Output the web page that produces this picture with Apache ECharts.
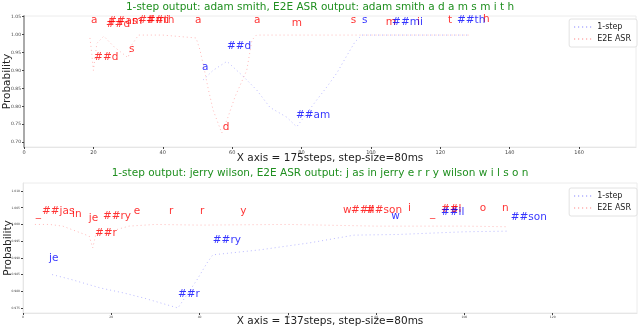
<!DOCTYPE html>
<html>
<head>
<meta charset="utf-8">
<script src="https://cdn.jsdelivr.net/npm/echarts@6/dist/echarts.min.js"></script>
<style>html,body{margin:0;padding:0;background:#fff}#c{width:640px;height:328px}</style>
</head>
<body>
<div id="c"></div>
<script>
// ---------- Top chart data ----------
const topTitle = '1-step output: adam smith, E2E ASR output: adam smith a d a m s m i t h';
const topXLabel = 'X axis = 175steps, step-size=80ms';
const topYTicks = [0.70, 0.75, 0.80, 0.85, 0.90, 0.95, 1.00, 1.05];
const topXTicks = [0, 20, 40, 60, 80, 100, 120, 140, 160];

const topBlueX = [51.6, 54.5, 58.5, 63, 67.1, 70.9, 75.7, 78.6, 84.4, 87.3, 90.2, 93, 95.4, 97.4, 105, 115, 128.5];
const topBlueY = [0.873, 0.90, 0.925, 0.885, 0.845, 0.797, 0.77, 0.743, 0.818, 0.854, 0.893, 0.94, 0.979, 0.998, 0.998, 0.998, 0.998];

const topRedX = [19, 19.5, 20, 21, 23, 26, 28, 30, 31, 33, 40, 49.6, 50.7, 51.9, 53, 54.5, 57, 58.8, 60.8, 64.2, 65.7, 67, 80, 100, 128.5];
const topRedY = [0.99, 0.95, 0.90, 0.975, 0.995, 0.965, 0.95, 0.935, 0.97, 0.998, 0.998, 0.99, 0.957, 0.906, 0.853, 0.79, 0.726, 0.77, 0.826, 0.90, 0.984, 0.998, 0.998, 0.998, 0.998];

const topRedTok = ['a', '##d', '##am', 's', '##mi', '##th', '##d', 's', 'a', 'd', 'a', 'm', 's', 'm', 'i', 't', 'h'];
const topRedTokX = [19.3, 23.6, 24.2, 31.1, 32.9, 35.2, 20.2, 30.3, 49.3, 57.3, 66.3, 77.2, 94.2, 104.3, 113.3, 122.2, 132.3];
const topRedTokY = [1.0286, 1.0175, 1.026, 1.026, 1.0286, 1.0286, 0.926, 0.948, 1.0286, 0.731, 1.0286, 1.020, 1.0286, 1.023, 1.023, 1.0286, 1.031];

const topBlueTok = ['a', '##d', '##am', 's', '##mi', '##th'];
const topBlueTokX = [51.3, 58.5, 78.4, 97.4, 106.1, 124.8];
const topBlueTokY = [0.898, 0.956, 0.765, 1.0286, 1.023, 1.0286];

// ---------- Bottom chart data ----------
const botTitle = '1-step output: jerry wilson, E2E ASR output: j as in jerry e r r y wilson w i l s o n';
const botXLabel = 'X axis = 137steps, step-size=80ms';
const botYTicks = [0.975, 0.980, 0.985, 0.990, 0.995, 1.000, 1.005, 1.010];
const botXTicks = [0, 20, 40, 60, 80, 100, 120];

const botBlueX = [6.6, 11, 17.5, 22.8, 27.3, 35.1, 39.4, 41.7, 43, 53.7, 65, 75, 85, 100, 110];
const botBlueY = [0.985, 0.9835, 0.981, 0.9795, 0.978, 0.975, 0.9834, 0.9885, 0.9909, 0.9924, 0.9945, 0.9968, 0.997, 0.9978, 0.998];

const botRedX = [2.7, 6, 9, 12, 15, 15.8, 16.5, 20, 24, 30, 40, 60, 80, 100, 110];
const botRedY = [1.0, 1.0, 0.9995, 0.998, 0.9965, 0.993, 0.997, 0.998, 0.9995, 1.0, 0.9998, 1.0, 0.9995, 0.9995, 0.9993];

const botRedTok = ['_', '##jas', 'in', 'je', '##ry', '##r', 'e', 'r', 'r', 'y', 'w', '##il', '##son', 'i', '_', '##l', 's', 'o', 'n'];
const botRedTokX = [2.9, 4.3, 11.1, 14.9, 18.1, 16.3, 25.1, 33.1, 40.1, 49.2, 72.5, 74.3, 77.7, 87.2, 92.2, 94.7, 97.2, 103.5, 108.5];
const botRedTokY = [1.0022, 1.0028, 1.0019, 1.0007, 1.0013, 0.9963, 1.0028, 1.0028, 1.0028, 1.0028, 1.0031, 1.0031, 1.0031, 1.0037, 1.0022, 1.0034, 1.0034, 1.0037, 1.0037];

const botBlueTok = ['je', '##r', '##ry', 'w', '##il', '##son'];
const botBlueTokX = [5.9, 35.1, 43.0, 83.4, 94.7, 110.5];
const botBlueTokY = [0.9888, 0.978, 0.9942, 1.0013, 1.0025, 1.001];

// ---------- build ----------
const zip = (xs, ys) => xs.map((x, i) => [x, ys[i]]);
const tokData = (t, xs, ys) => t.map((s, i) => ({ value: [xs[i], ys[i]], name: s }));
const FONT = 'DejaVu Sans';
const RED = 'rgba(255,0,0,0.28)';
const BLUE = 'rgba(0,0,255,0.28)';

function lineSeries(name, data, color, gi) {
  return {
    type: 'line', name, data, xAxisIndex: gi, yAxisIndex: gi,
    symbol: 'none', silent: true,
    lineStyle: { color, width: 1, type: [1, 3] },
    itemStyle: { color },
    emphasis: { disabled: true }, animation: false
  };
}
function textSeries(data, color, gi) {
  return {
    type: 'scatter', data, xAxisIndex: gi, yAxisIndex: gi,
    symbolSize: 0, silent: true, animation: false,
    itemStyle: { color: 'rgba(0,0,0,0)' },
    label: {
      show: true, formatter: '{b}', position: [0, 0], align: 'left', verticalAlign: 'bottom',
      offset: [0, 2], color, fontSize: 10.5, fontFamily: FONT
    },
    emphasis: { disabled: true }
  };
}
function xAxis(gi, max, ticks, name, fs, gap) {
  return {
    type: 'value', gridIndex: gi, min: 0, max,
    name, nameLocation: 'middle', nameGap: gap, nameMoveOverlap: false,
    nameTextStyle: { fontFamily: FONT, fontSize: 10.5, color: '#222' },
    axisLine: { show: true, lineStyle: { color: '#e6e6e6', width: 1 } },
    axisTick: { show: true, customValues: ticks, length: 2, lineStyle: { color: '#444' } },
    axisLabel: { customValues: ticks, fontSize: fs, fontFamily: FONT, color: '#444', margin: 3 },
    splitLine: { show: false }
  };
}
function yAxis(gi, min, max, ticks, dec, fs, lineColor, lineWidth, gap) {
  return {
    type: 'value', gridIndex: gi, min, max,
    name: 'Probability', nameLocation: 'middle', nameGap: gap, nameMoveOverlap: false,
    nameTextStyle: { fontFamily: FONT, fontSize: 10.5, color: '#222' },
    axisLine: { show: true, lineStyle: { color: lineColor, width: lineWidth } },
    axisTick: { show: true, customValues: ticks, length: 2, lineStyle: { color: '#444' } },
    axisLabel: { customValues: ticks, fontSize: fs, fontFamily: FONT, color: '#444', margin: 3,
      formatter: v => v.toFixed(dec) },
    splitLine: { show: false }
  };
}
function legend(top) {
  return {
    orient: 'vertical', right: 3, top, data: ['1-step', 'E2E ASR'],
    itemWidth: 18, itemHeight: 6, itemGap: 4, padding: [4, 6, 4, 4],
    backgroundColor: '#fff', borderColor: '#e2e2e2', borderWidth: 1, borderRadius: 2,
    itemStyle: { color: 'rgba(0,0,0,0)', borderColor: 'rgba(0,0,0,0)', borderWidth: 0 },
    textStyle: { fontFamily: FONT, fontSize: 8, color: '#222' },
    selectedMode: false
  };
}

const option = {
  animation: false,
  backgroundColor: '#fff',
  title: [
    { text: topTitle, left: 'center', top: -3, textStyle: { color: '#1f8f1f', fontSize: 10.5, fontWeight: 'normal', fontFamily: FONT } },
    { text: botTitle, left: 'center', top: 163, textStyle: { color: '#1f8f1f', fontSize: 10.5, fontWeight: 'normal', fontFamily: FONT } }
  ],
  legend: [legend(19), legend(188)],
  grid: [
    { left: 24, top: 16, width: 612, height: 131, show: true, borderColor: '#ececec', borderWidth: 1, outerBoundsMode: 'none', containLabel: false },
    { left: 23, top: 183, width: 614, height: 130, show: true, borderColor: '#ececec', borderWidth: 1, outerBoundsMode: 'none', containLabel: false }
  ],
  xAxis: [
    xAxis(0, 176.4, topXTicks, topXLabel, 5, 6),
    xAxis(1, 139.1, botXTicks, botXLabel, 3, 3)
  ],
  yAxis: [
    yAxis(0, 0.687, 1.051, topYTicks, 2, 4.5, '#aaaaaa', 2, 11),
    yAxis(1, 0.9735, 1.0124, botYTicks, 3, 3, '#e6e6e6', 1, 9)
  ],
  series: [
    lineSeries('1-step', zip(topBlueX, topBlueY), BLUE, 0),
    lineSeries('E2E ASR', zip(topRedX, topRedY), RED, 0),
    lineSeries('1-step', zip(botBlueX, botBlueY), BLUE, 1),
    lineSeries('E2E ASR', zip(botRedX, botRedY), RED, 1),
    textSeries(tokData(topRedTok, topRedTokX, topRedTokY), '#ff0000', 0),
    textSeries(tokData(topBlueTok, topBlueTokX, topBlueTokY), '#0000ff', 0),
    textSeries(tokData(botRedTok, botRedTokX, botRedTokY), '#ff0000', 1),
    textSeries(tokData(botBlueTok, botBlueTokX, botBlueTokY), '#0000ff', 1)
  ]
};
echarts.init(document.getElementById('c'), null, { renderer: 'canvas' }).setOption(option);
</script>
</body>
</html>
